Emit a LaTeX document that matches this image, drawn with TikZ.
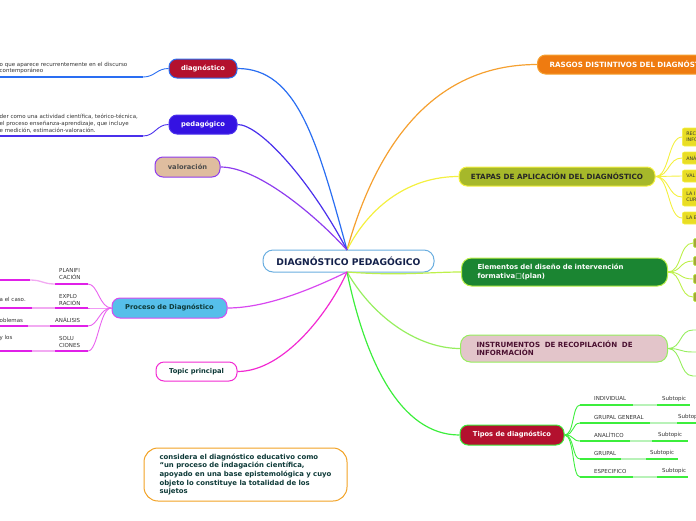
\documentclass[tikz,border=0pt]{standalone}
\usepackage{fontspec}
\setmainfont{DejaVu Sans}
\definecolor{cenB}{HTML}{6AAEE0}
\definecolor{navy}{HTML}{13204A}
\definecolor{orF}{HTML}{EF7B10}
\definecolor{orL}{HTML}{F5A030}
\definecolor{etF}{HTML}{A6B82A}
\definecolor{yelL}{HTML}{F4F040}
\definecolor{ysubF}{HTML}{E9DD24}
\definecolor{elF}{HTML}{1B8532}
\definecolor{elL}{HTML}{BDF04A}
\definecolor{olF}{HTML}{A2A838}
\definecolor{inF}{HTML}{E3C5CA}
\definecolor{inL}{HTML}{96EE5E}
\definecolor{inT}{HTML}{4A1030}
\definecolor{tiF}{HTML}{B3112E}
\definecolor{tiL}{HTML}{3CEE3C}
\definecolor{tiLL}{HTML}{B8F2B8}
\definecolor{dgL}{HTML}{2A6EF2}
\definecolor{pgF}{HTML}{3412E2}
\definecolor{pgL}{HTML}{4A30EC}
\definecolor{vaF}{HTML}{DFBD9F}
\definecolor{vaL}{HTML}{8E3CEE}
\definecolor{prF}{HTML}{56BFEA}
\definecolor{prL}{HTML}{D848F0}
\definecolor{prC}{HTML}{E020E8}
\definecolor{prCL}{HTML}{F2AAF2}
\definecolor{tpL}{HTML}{F22AD2}
\definecolor{dkT}{HTML}{0E3A38}
\definecolor{txG}{HTML}{333333}
\definecolor{bxO}{HTML}{F2A224}
\newfontfamily\symfont{DejaVu Sans}
\begin{document}
\begin{tikzpicture}[x=1pt,y=-1pt,
  topic/.style={rounded corners=8pt, line width=1pt, inner sep=0pt, font=\bfseries\fontsize{6.7}{8}\selectfont},
  br/.style={line width=1.2pt},
  thin/.style={line width=0.9pt},
  subtxt/.style={font=\fontsize{5.5}{7}\selectfont, inner sep=0pt, text=txG, align=left},
  ysub/.style={fill=ysubF, draw=yelL, line width=0.6pt, rounded corners=2pt, inner sep=0pt, anchor=west, text width=40pt, inner xsep=4pt, align=left, font=\fontsize{4.8}{5.8}\selectfont, text=txG},
  osub/.style={fill=olF, draw=elL, line width=0.6pt, rounded corners=1.5pt, inner sep=0pt, anchor=west, minimum width=14pt, minimum height=9pt},
]
\useasboundingbox (0,0) rectangle (696,520);
\clip (0,0) rectangle (696,520);

% central node
\node[topic, draw=cenB, fill=white, minimum width=171pt, minimum height=22pt, rounded corners=10pt, text=navy, font=\bfseries\fontsize{9.2}{10}\selectfont] (c) at (348.5,261) {DIAGNÓSTICO PEDAGÓGICO};
\coordinate (ctop) at (347,250);
\coordinate (cbot) at (347,272);

% right main topics
\node[topic, draw=orL, fill=orF, text=white, minimum height=19pt, anchor=west, text width=176pt, inner xsep=12pt, align=left, font=\bfseries\fontsize{7.2}{8}\selectfont] (ras) at (537,64.5) {RASGOS DISTINTIVOS DEL DIAGNÓSTICO};
\node[topic, draw=yelL, fill=etF, text=black!85, minimum width=196pt, minimum height=19pt, font=\bfseries\fontsize{7.2}{8}\selectfont] (et) at (557,176.5) {ETAPAS DE APLICACIÓN DEL DIAGNÓSTICO};
\node[topic, draw=elL, fill=elF, text=white, minimum height=28pt, anchor=west, text width=174pt, inner xsep=16pt, align=left, rounded corners=10pt, font=\bfseries\fontsize{6.9}{8.4}\selectfont] (el) at (461,272) {Elementos del diseño de intervención\\formativa{\symfont □}(plan)};
\node[topic, draw=inL, fill=inF, text=inT, minimum height=27pt, anchor=west, text width=175pt, inner xsep=16pt, align=left, rounded corners=10pt, font=\bfseries\fontsize{7.1}{8.2}\selectfont] (ins) at (460,348.5) {INSTRUMENTOS\ \ DE RECOPILACIÓN\ \ DE\\INFORMACIÓN};
\node[topic, draw=tiL, fill=tiF, text=white, minimum width=104pt, minimum height=20pt] (ti) at (512,435) {Tipos de diagnóstico};

% left main topics
\node[topic, draw=dgL, fill=tiF, text=white, minimum width=68pt, minimum height=19pt] (dg) at (203,68.5) {diagnóstico};
\node[topic, draw=pgL, fill=pgF, text=white, minimum width=68pt, minimum height=19pt] (pg) at (203,124.5) {pedagógico};
\node[topic, draw=vaL, fill=vaF, text=black!70, minimum width=65pt, minimum height=20pt] (va) at (187.5,167) {valoración};
\node[topic, draw=prL, fill=prF, text=dkT, minimum width=115pt, minimum height=20pt] (pr) at (169.5,308) {Proceso de Diagnóstico};
\node[topic, draw=tpL, fill=white, text=dkT, minimum width=81pt, minimum height=19pt] (tp) at (196.5,371.5) {Topic principal};

% note box
\node[draw=bxO, line width=1pt, fill=white, rounded corners=14pt, minimum width=203pt, minimum height=53pt, inner xsep=0pt, inner ysep=0pt, align=left, text=dkT, font=\bfseries\fontsize{6.9}{8.6}\selectfont] (nt) at (245.5,474.5) {considera el diagnóstico educativo como\\“un proceso de indagación científica,\\apoyado en una base epistemológica y cuyo\\objeto lo constituye la totalidad de los\\sujetos};

% main connectors
\draw[br, orL] (ctop) .. controls (375,150) and (430,64.5) .. (ras.west);
\draw[br, yelL] (ctop) .. controls (370,205) and (410,176.5) .. (et.west);
\draw[br, elL] (cbot) .. controls (400,276) and (430,272) .. (el.west);
\draw[br, inL] (cbot) .. controls (375,320) and (420,348.5) .. (ins.west);
\draw[br, tiL] (cbot) .. controls (365,360) and (400,435) .. (ti.west);
\draw[br, dgL] (ctop) .. controls (317,140) and (297,68.5) .. (dg.east);
\draw[br, pgL] (ctop) .. controls (310,180) and (260,124.5) .. (pg.east);
\draw[br, vaL] (ctop) .. controls (320,220) and (260,167) .. (va.east);
\draw[br, prL] (cbot) .. controls (320,285) and (270,308) .. (pr.east);
\draw[br, tpL] (cbot) .. controls (330,310) and (285,371.5) .. (tp.east);

% ETAPAS subtopics
\node[ysub, minimum height=18pt] (e1) at (682,137) {RECO\\INFO};
\node[ysub, minimum height=12pt] (e2) at (682,158) {ANÁ};
\node[ysub, minimum height=12pt] (e3) at (682,176) {VAL};
\node[ysub, minimum height=18pt] (e4) at (682,197) {LA I\\CUR};
\node[ysub, minimum height=12pt] (e5) at (682,218) {LA E};
\foreach \n in {e1,e2,e3,e4,e5}
  \draw[thin, yelL] (et.east) .. controls +(14,0) and +(-14,0) .. (\n.west);

% Elementos subtopics
\node[osub] (o1) at (693,243) {};
\node[osub] (o2) at (693,261) {};
\node[osub] (o3) at (693,279) {};
\node[osub] (o4) at (693,297) {};
\foreach \n in {o1,o2,o3,o4}
  \draw[thin, elL] (el.east) .. controls +(14,0) and +(-14,0) .. (\n.west);

% Instrumentos subtopics
\coordinate (i1) at (693,330); \coordinate (i1e) at (700,330);
\coordinate (i2) at (693,352); \coordinate (i2e) at (700,352);
\coordinate (i3) at (693,376); \coordinate (i3e) at (700,376);
\foreach \n in {i1,i2,i3}
  \draw[thin, inL] (ins.east) .. controls +(14,0) and +(-14,0) .. (\n) -- (\n e);

% Tipos subtopics
\foreach \k/\lab/\ty/\uy/\a/\b/\e/\sx in {
  1/INDIVIDUAL/399/405/633/657/690/662,
  2/GRUPAL GENERAL/417/423/650/677/700/678,
  3/ANALÍTICO/435/441/630/652/688/658,
  4/GRUPAL/453/459/621/646/678/650,
  5/ESPECIFICO/471/477/633/657/688/662}{
  \coordinate (t\k) at (580,\uy);
  \coordinate (ta\k) at (\a,\uy);
  \coordinate (tb\k) at (\b,\uy);
  \coordinate (tc\k) at (\e,\uy);
  \draw[thin, tiL] (ti.east) .. controls +(10,0) and +(-8,0) .. (t\k);
  \draw[line width=1.3pt, tiL] (t\k) -- (ta\k);
  \draw[line width=1.3pt, tiLL] (ta\k) -- (tb\k);
  \draw[line width=1.3pt, tiL] (tb\k) -- (tc\k);
  \node[subtxt, anchor=west] (tl\k) at (594,\ty) {\lab};
  \node[subtxt, anchor=west] (ts\k) at (\sx,\ty) {Subtopic};
}

% diagnostico child
\coordinate (d1) at (143,77); \coordinate (d1e) at (0,77);
\draw[thin, dgL] (dg.west) .. controls +(-12,0) and +(12,0) .. (d1);
\draw[line width=1.3pt, dgL] (d1) -- (d1e);
\node[subtxt, anchor=west, font=\fontsize{5.5}{6.8}\selectfont] (dt) at (-0.5,68) {o que aparece recurrentemente en el discurso\\contemporáneo};

% pedagogico child
\coordinate (p1) at (143,136); \coordinate (p1e) at (0,136);
\draw[thin, pgL] (pg.west) .. controls +(-12,0) and +(12,0) .. (p1);
\draw[line width=1.3pt, pgL] (p1) -- (p1e);
\node[subtxt, anchor=west, font=\fontsize{5.5}{7}\selectfont] (pt) at (-0.5,124) {der como una actividad científica, teórico-técnica,\\el proceso enseñanza-aprendizaje, que incluye\\e medición, estimación-valoración.};

% Proceso children
\foreach \k/\uy/\a/\b in {1/284/55/30, 2/308/55/32, 3/326/50/28, 4/351/55/32}{
  \coordinate (q\k) at (88,\uy);
  \coordinate (qa\k) at (\a,\uy);
  \coordinate (qb\k) at (\b,\uy);
  \draw[thin, prC!70] (pr.west) .. controls +(-12,0) and +(10,0) .. (q\k);
  \draw[line width=1.3pt, prC] (q\k) -- (qa\k);
}
\coordinate (qe2) at (0,308); \coordinate (qe3) at (0,326); \coordinate (qe4) at (0,351);
\coordinate (qb1) at (30,280); \coordinate (qe1) at (0,280);
\draw[line width=1.3pt, prCL] (qa1) .. controls +(-12,0) and +(12,0) .. (qb1);
\draw[line width=1.3pt, prC] (qb1) -- (qe1);
\foreach \k in {2,3,4}{
  \draw[line width=1.3pt, prCL] (qa\k) -- (qb\k);
  \draw[line width=1.3pt, prC] (qb\k) -- (qe\k);
}
\node[subtxt, anchor=west] (r1) at (59,274.5) {PLANIFI\\CACIÓN};
\node[subtxt, anchor=west] (r2) at (59,299.5) {EXPLO\\RACIÓN};
\node[subtxt, anchor=west] (r3) at (55,320) {ANÁLISIS};
\node[subtxt, anchor=west] (r4) at (59,341.5) {SOLU\\CIONES};
\node[subtxt, anchor=west] (l2) at (-0.5,299) {a el caso.};
\node[subtxt, anchor=west] (l3) at (-0.5,320) {oblemas};
\node[subtxt, anchor=west] (l4) at (-0.5,338) {y los};
\end{tikzpicture}
\end{document}
